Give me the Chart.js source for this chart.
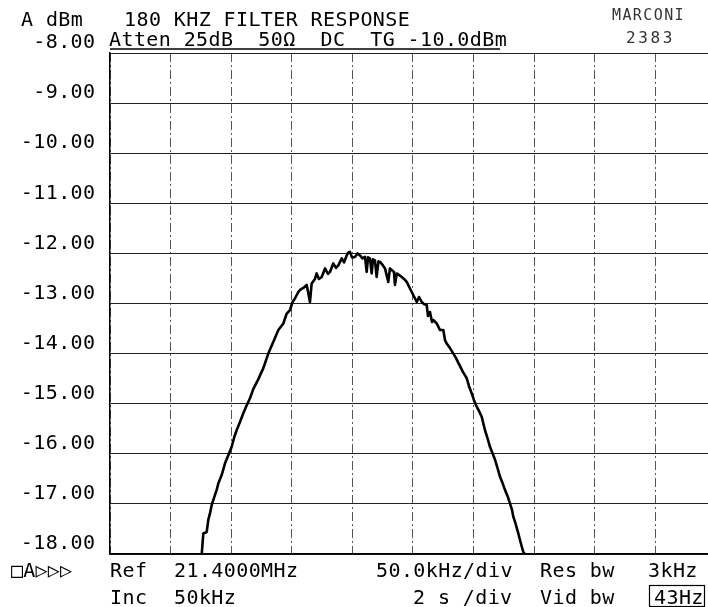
<!DOCTYPE html>
<html>
<head>
<meta charset="utf-8">
<script src="https://cdn.jsdelivr.net/npm/chart.js@4/dist/chart.umd.min.js"></script>
<style>
  html, body { margin: 0; padding: 0; background: #fff; overflow: hidden; }
  #wrap { position: relative; width: 708px; height: 607px; }
</style>
</head>
<body>
<div id="wrap"><canvas id="c" width="708" height="607"></canvas></div>
<script>
// Frequency offset from the 21.4 MHz reference, kHz (50 kHz per division)
const freqOffsetKHz = [
  -174.3,-173.0,-170.2,-168.9,-167.5,-166.1,-163.9,-162.0,-160.6,-157.8,
  -155.1,-152.4,-149.6,-147.4,-145.5,-142.7,-140.0,-137.2,-134.5,-131.8,
  -127.6,-123.5,-119.4,-115.3,-111.1,-107.0,-104.2,-101.5,-99.4,-97.4,
  -94.6,-93.2,-90.5,-87.7,-85.0,-83.6,-80.9,-79.5,-77.6,-75.3,
  -72.6,-70.1,-68.5,-65.8,-63.5,-61.6,-58.8,-56.9,-54.7,-53.2,
  -52.0,-50.3,-47.9,-45.8,-43.7,-41.7,-39.6,-38.2,-37.1,-35.5,
  -34.1,-33.0,-31.4,-30.0,-28.5,-27.2,-24.8,-23.1,-20.4,-19.0,
  -17.6,-15.7,-14.9,-13.4,-11.6,-9.3,-7.4,-5.2,-2.5,0.2,
  3.1,5.0,7.2,9.1,11.3,12.4,14.0,15.7,16.7,19.6,
  22.3,25.0,26.4,27.8,30.5,33.3,35.5,37.1,38.8,41.3,
  44.3,46.2,48.4,50.3,52.6,54.5,56.7,58.2,59.4,61.5,
  63.5,65.6,67.7,69.7,71.8,73.8,75.9,78.0,80.0,81.7,
  82.8,84.2,86.9,88.7,91.0,92.4
];

// Measured level, dBm
const levelDbm = [
  -18.00,-17.59,-17.56,-17.32,-17.19,-17.02,-16.86,-16.72,-16.59,-16.42,
  -16.19,-16.03,-15.86,-15.66,-15.53,-15.36,-15.19,-15.03,-14.89,-14.71,
  -14.51,-14.29,-14.00,-13.77,-13.53,-13.40,-13.20,-13.13,-12.97,-12.90,
  -12.77,-12.73,-12.69,-12.63,-12.97,-12.60,-12.51,-12.40,-12.51,-12.47,
  -12.30,-12.41,-12.37,-12.20,-12.29,-12.24,-12.10,-12.18,-12.04,-11.98,
  -11.97,-12.08,-12.07,-12.00,-12.04,-12.10,-12.07,-12.37,-12.08,-12.10,
  -12.40,-12.12,-12.14,-12.47,-12.16,-12.17,-12.24,-12.30,-12.57,-12.30,
  -12.33,-12.37,-12.63,-12.40,-12.43,-12.47,-12.51,-12.57,-12.70,-12.83,
  -12.97,-12.87,-12.97,-13.01,-13.03,-13.25,-13.17,-13.37,-13.33,-13.40,
  -13.53,-13.53,-13.73,-13.80,-13.89,-14.00,-14.09,-14.17,-14.25,-14.37,
  -14.49,-14.65,-14.79,-14.93,-15.06,-15.15,-15.26,-15.41,-15.53,-15.69,
  -15.86,-15.99,-16.12,-16.28,-16.46,-16.58,-16.72,-16.84,-16.99,-17.12,
  -17.26,-17.36,-17.59,-17.76,-17.96,-18.00
];

// Axis divisions
const levelTicks = [-8, -9, -10, -11, -12, -13, -14, -15, -16, -17, -18];
const freqDivisions = [-250, -200, -150, -100, -50, 0, 50, 100, 150, 200];

const MONO = '"DejaVu Sans Mono", "Liberation Mono", monospace';
const SPACING = 0.4;

// Header and footer annotations of the analyser plot
const annotations = [
  { t: 'A dBm', x: 21, y: 26 },
  { t: '180 KHZ FILTER RESPONSE', x: 124, y: 26 },
  { t: 'Atten 25dB  50\u03A9  DC  TG -10.0dBm', x: 109, y: 46 },
  { t: 'MARCONI', x: 612, y: 20, size: 15, sp: 1.4, color: '#333' },
  { t: '2383', x: 626, y: 43, size: 16, sp: 2.6, color: '#333' },
  { t: '\u25A1A\u25B7\u25B7\u25B7', x: 11, y: 577, size: 20, sp: 0.2 },
  { t: 'Ref', x: 110, y: 577 },
  { t: '21.4000MHz', x: 174, y: 577 },
  { t: '50.0kHz/div', x: 376, y: 577 },
  { t: 'Res bw', x: 540, y: 577 },
  { t: '3kHz', x: 648, y: 577 },
  { t: 'Inc', x: 110, y: 604 },
  { t: '50kHz', x: 174, y: 604 },
  { t: '2 s /div', x: 413, y: 604 },
  { t: 'Vid bw', x: 540, y: 604 },
  { t: '43Hz', x: 654, y: 604 }
];

const textPlugin = {
  id: 'plotterText',
  beforeDraw(chart) {
    chart.ctx.letterSpacing = SPACING + 'px';
  },
  afterDraw(chart) {
    const ctx = chart.ctx;
    ctx.save();
    ctx.textBaseline = 'alphabetic';
    ctx.textAlign = 'left';
    for (const a of annotations) {
      ctx.font = (a.size || 20) + 'px ' + MONO;
      ctx.letterSpacing = (a.sp !== undefined ? a.sp : SPACING) + 'px';
      ctx.fillStyle = a.color || '#000';
      ctx.fillText(a.t, a.x, a.y);
    }
    // underline of the settings line
    ctx.strokeStyle = '#000';
    ctx.lineWidth = 1.5;
    ctx.beginPath();
    ctx.moveTo(110, 49);
    ctx.lineTo(500, 49);
    ctx.stroke();
    // frame round the video bandwidth value
    ctx.lineWidth = 1.2;
    ctx.strokeRect(649.5, 585.5, 55, 21);
    ctx.restore();
  }
};

const points = freqOffsetKHz.map((f, i) => ({ x: f, y: levelDbm[i] }));

new Chart(document.getElementById('c'), {
  type: 'line',
  data: {
    datasets: [{
      data: points,
      borderColor: '#000',
      borderWidth: 2.6,
      borderJoinStyle: 'round',
      pointRadius: 0,
      tension: 0,
      fill: false
    }]
  },
  options: {
    responsive: false,
    animation: false,
    events: [],
    layout: { padding: { top: 53, left: 0, right: 0, bottom: 0 } },
    plugins: { legend: { display: false }, tooltip: { enabled: false } },
    scales: {
      x: {
        type: 'linear',
        min: -250,
        max: 243.4,
        afterBuildTicks: ax => { ax.ticks = freqDivisions.map(v => ({ value: v })); },
        afterFit: ax => { ax.height = 53; },
        ticks: { display: false },
        grid: { color: '#555', lineWidth: 1, drawTicks: false },
        border: { display: true, color: '#000', width: 1.5, dash: [9, 3, 2, 3] }
      },
      y: {
        type: 'linear',
        min: -18,
        max: -8,
        afterBuildTicks: ax => { ax.ticks = levelTicks.map(v => ({ value: v })); },
        afterFit: ax => { ax.width = 110; },
        ticks: {
          color: '#000',
          font: { family: MONO, size: 20 },
          padding: 14.5,
          labelOffset: -10,
          autoSkip: false,
          callback: v => v.toFixed(2)
        },
        grid: { color: '#222', lineWidth: 1, drawTicks: false },
        border: { display: true, color: '#000', width: 1.5 }
      }
    }
  },
  plugins: [textPlugin]
});
</script>
</body>
</html>
